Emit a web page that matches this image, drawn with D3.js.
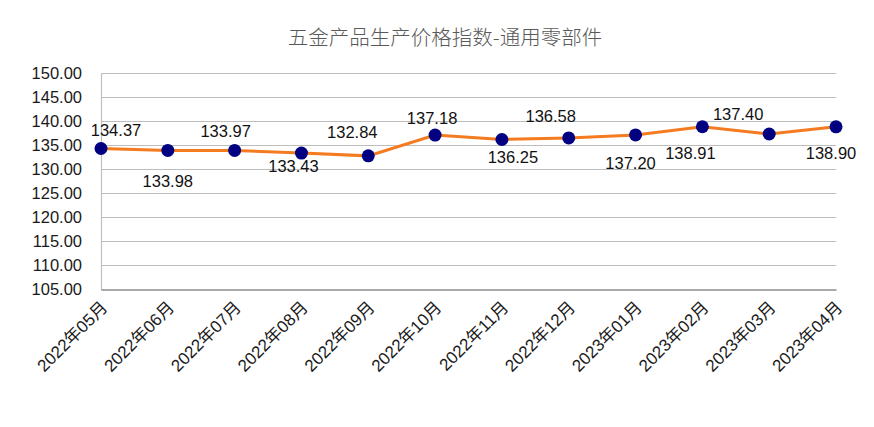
<!DOCTYPE html>
<html>
<head>
<meta charset="utf-8">
<script src="https://cdn.jsdelivr.net/npm/d3@7/dist/d3.min.js"></script>
<style>
  html, body { margin: 0; padding: 0; background: #ffffff; }
  svg { display: block; }
</style>
</head>
<body>
<script>
// ---- data ----
const title = "五金产品生产价格指数-通用零部件";
const categories = ["2022年05月","2022年06月","2022年07月","2022年08月","2022年09月","2022年10月",
                    "2022年11月","2022年12月","2023年01月","2023年02月","2023年03月","2023年04月"];
const values = [134.37, 133.98, 133.97, 133.43, 132.84, 137.18, 136.25, 136.58, 137.20, 138.91, 137.40, 138.90];
const yTicks = [105, 110, 115, 120, 125, 130, 135, 140, 145, 150];

// ---- layout (label offsets in px relative to point) ----
const labelOffsets = [[15,-18],[0,31],[-9,-19],[-8,13],[-16,-24],[-3,-17],
                      [11,18],[-18,-22],[-5,28],[-12,26],[-31,-20],[-5,26]];

const W = 874, H = 427;
const margin = { left: 101, right: 38, top: 73.5, bottom: 137.5 };

const svg = d3.select("body").append("svg").attr("width", W).attr("height", H);

const x = d3.scalePoint().domain(categories).range([margin.left, W - margin.right]);
const y = d3.scaleLinear().domain([105, 150]).range([H - margin.bottom, margin.top]);

// gridlines
svg.append("g").selectAll("line").data(yTicks.slice(1)).join("line")
  .attr("x1", margin.left).attr("x2", W - margin.right)
  .attr("y1", d => y(d)).attr("y2", d => y(d))
  .attr("stroke", "#bdbdbd").attr("stroke-width", 1.2);

// y axis
const yAxis = svg.append("g").attr("transform", `translate(${margin.left},0)`)
  .call(d3.axisLeft(y).tickValues(yTicks).tickFormat(d3.format(".2f")).tickSize(0).tickPadding(19));
yAxis.select(".domain").attr("stroke", "#bfbfbf").attr("stroke-width", 1.2);
yAxis.selectAll("text").attr("font-family", "Liberation Sans, Arial, sans-serif")
  .attr("font-size", 16.5).attr("fill", "#1a1a1a");

// x axis
const xAxis = svg.append("g").attr("transform", `translate(0,${y(105)})`)
  .call(d3.axisBottom(x).tickSize(0).tickPadding(0));
xAxis.select(".domain").attr("stroke", "#8c8c8c").attr("stroke-width", 1.5);
xAxis.selectAll("text")
  .attr("font-family", "Liberation Sans, Arial, 'Noto Sans CJK SC', sans-serif")
  .attr("font-size", 17).attr("fill", "#1a1a1a")
  .attr("text-anchor", "end")
  .attr("dy", null).attr("y", null)
  .attr("transform", "translate(7,19) rotate(-45)");

// line
svg.append("path").datum(values)
  .attr("fill", "none").attr("stroke", "#f47b20").attr("stroke-width", 3)
  .attr("d", d3.line().x((d, i) => x(categories[i])).y(d => y(d)));

// markers
svg.append("g").selectAll("circle").data(values).join("circle")
  .attr("cx", (d, i) => x(categories[i])).attr("cy", d => y(d))
  .attr("r", 6.5).attr("fill", "#000080");

// data labels
svg.append("g").selectAll("text").data(values).join("text")
  .attr("x", (d, i) => x(categories[i]) + labelOffsets[i][0])
  .attr("y", (d, i) => y(d) + labelOffsets[i][1])
  .attr("dy", "0.35em")
  .attr("text-anchor", "middle")
  .attr("font-family", "Liberation Sans, Arial, sans-serif")
  .attr("font-size", 16.5).attr("fill", "#111")
  .text(d => d3.format(".2f")(d));

// title
svg.append("text").attr("x", 445).attr("y", 38).attr("dy", "0.35em")
  .attr("text-anchor", "middle")
  .attr("font-family", "'Noto Sans CJK SC', sans-serif")
  .attr("font-size", 20.5).attr("font-weight", 300).attr("fill", "#595959")
  .text(title);
</script>
</body>
</html>
